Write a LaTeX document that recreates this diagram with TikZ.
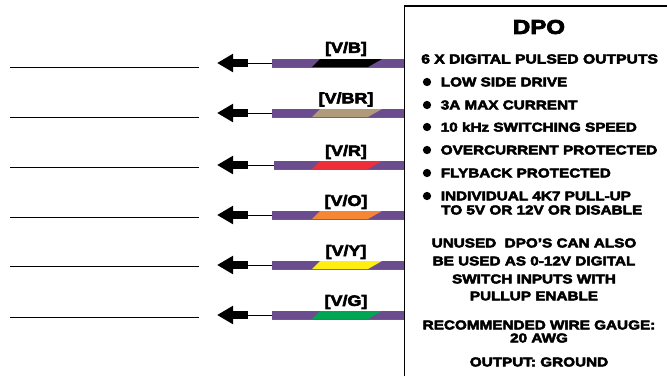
\documentclass[tikz,border=0pt]{standalone}
\usepackage{fontspec}
\setmainfont{Liberation Sans}[BoldFont=Liberation Sans Bold,BoldFeatures={FakeBold=4,FakeStretch=1.2}]
\usetikzlibrary{arrows.meta}
\definecolor{wirepurple}{HTML}{6B4C8F}
\definecolor{wirebrown}{HTML}{B09A7A}
\definecolor{wirered}{HTML}{EE2E38}
\definecolor{wireorange}{HTML}{F58634}
\definecolor{wireyellow}{HTML}{FFEE11}
\definecolor{wiregreen}{HTML}{00A651}
\tikzset{
	dpotext/.style={inner sep=0pt,font=\bfseries\fontsize{9.55}{11}\selectfont},
	wirelabel/.style={inner sep=0pt,font=\bfseries\fontsize{11.2}{12}\selectfont},
	bulletdot/.style={circle,fill=black,inner sep=0pt,minimum size=6.2pt},
}
\begin{document}
\begin{tikzpicture}[x=0.75pt,y=-0.75pt]
	\useasboundingbox (0,0) rectangle (667,376);
	% wires
	\foreach \i/\y/\ly/\fy/\bx/\lab/\col in {1/63/49/67/272/V\slash B/black,2/113/99.5/117/272/V\slash BR/wirebrown,3/165/152/167/274/V\slash R/wirered,4/215/202/217/272/V\slash O/wireorange,5/265/252/266/272/V\slash Y/wireyellow,6/315/302/317/272/V\slash G/wiregreen}{
		\coordinate (free\i) at (10,\fy);
		\coordinate (freeb\i) at (199,\fy);
		\coordinate (tip\i) at (217,\y);
		\coordinate (tail\i) at (248,\y);
		\coordinate (bar\i) at (\bx,\y);
		\coordinate (box\i) at (404,\y);
		\draw[thin] (free\i) -- (freeb\i);
		\draw[thin] (bar\i) -- (tail\i);
		\draw[line width=6.2pt,-{Triangle[length=12pt,width=13pt]}] (tail\i) -- (tip\i);
		\draw[line width=6pt,wirepurple] (bar\i) -- (box\i);
		\draw[black!60,line width=0.5pt] (\bx,\y+4) -- (404,\y+4);
		\fill[\col] (312,\y+4) -- (320,\y-4) -- (382,\y-4) -- (368,\y+4) -- cycle;
		\node[wirelabel] (lab\i) at (346,\ly) {[\lab]};
	}
	% box
	\coordinate (dpoa) at (404.5,376);
	\coordinate (dpob) at (404.5,6);
	\coordinate (dpoc) at (667,6);
	\draw[thick] (dpoa) -- (dpob) -- (dpoc);
	\node[inner sep=0pt,font=\bfseries\fontsize{15}{17}\selectfont] (title) at (539,27) {DPO};
	\node[inner sep=0pt,anchor=west,font=\bfseries\fontsize{9.8}{11}\selectfont] (head) at (421,59) {6 X DIGITAL PULSED OUTPUTS};
	% bullets
	\foreach \i/\y/\txt in {1/82/LOW SIDE DRIVE,2/105/3A MAX CURRENT,3/127/10 kHz SWITCHING SPEED,4/150/OVERCURRENT PROTECTED,5/173/FLYBACK PROTECTED,6/196/INDIVIDUAL 4K7 PULL-UP}{
		\node[bulletdot] (dot\i) at (427,\y) {};
		\node[dpotext,anchor=west] (item\i) at (440.5,\y) {\txt};
	}
	\node[dpotext,anchor=west] (item7) at (441,210) {TO 5V OR 12V OR DISABLE};
	% notes
	\node[dpotext] (unused) at (534,243) {UNUSED\ \ DPO’S CAN ALSO};
	\node[dpotext] (beused) at (534,261) {BE USED AS 0-12V DIGITAL};
	\node[dpotext] (switch) at (534,279) {SWITCH INPUTS WITH};
	\node[dpotext] (pullup) at (534,296) {PULLUP ENABLE};
	\node[dpotext] (gauge) at (539,325) {RECOMMENDED WIRE GAUGE:};
	\node[dpotext] (awg) at (539,338) {20 AWG};
	\node[dpotext] (ground) at (539,362) {OUTPUT: GROUND};
\end{tikzpicture}
\end{document}
